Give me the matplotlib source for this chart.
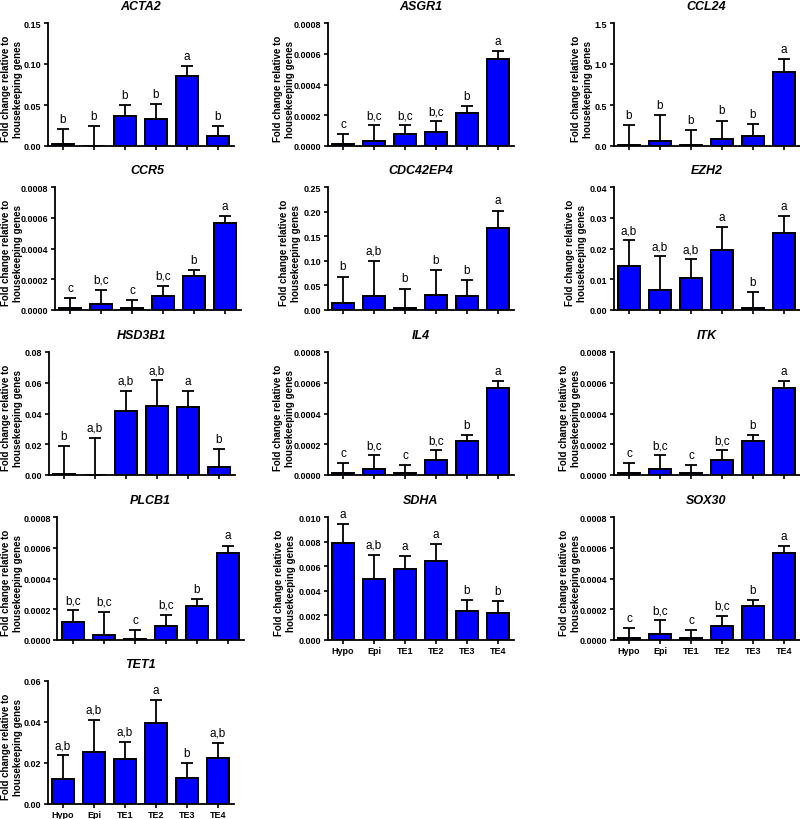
import numpy as np
import matplotlib
matplotlib.use("Agg")
import matplotlib.pyplot as plt

plt.rcParams['font.family'] = ['Liberation Sans', 'DejaVu Sans']

groups = ["Hypo", "Epi", "TE1", "TE2", "TE3", "TE4"]

# mean and SD (upper whisker) per gene
ACTA2 = [0.002, 0.0, 0.036, 0.033, 0.0855, 0.012]
ACTA2_sd = [0.019, 0.0245, 0.014, 0.018, 0.0115, 0.012]
ACTA2_grp = ["b", "b", "b", "b", "a", "b"]

ASGR1 = [0.00001, 0.000033, 0.00008, 0.00009, 0.000217, 0.000563]
ASGR1_sd = [0.00007, 0.000102, 0.000055, 0.00007, 0.000043, 0.000052]
ASGR1_grp = ["c", "b,c", "b,c", "b,c", "b", "a"]

CCL24 = [0.012, 0.06, 0.012, 0.08, 0.12, 0.905]
CCL24_sd = [0.248, 0.32, 0.178, 0.23, 0.145, 0.16]
CCL24_grp = ["b", "b", "b", "b", "b", "a"]

CCR5 = [0.00001, 0.000037, 0.00001, 0.000093, 0.000218, 0.000564]
CCR5_sd = [0.00007, 0.000093, 0.000053, 0.000065, 0.000042, 0.000046]
CCR5_grp = ["c", "b,c", "c", "b,c", "b", "a"]

CDC42EP4 = [0.015, 0.029, 0.004, 0.031, 0.029, 0.166]
CDC42EP4_sd = [0.053, 0.071, 0.0395, 0.0505, 0.032, 0.036]
CDC42EP4_grp = ["b", "a,b", "b", "b", "b", "a"]

EZH2 = [0.0143, 0.0066, 0.0105, 0.0194, 0.0005, 0.025]
EZH2_sd = [0.0084, 0.0109, 0.006, 0.0077, 0.0052, 0.0056]
EZH2_grp = ["a,b", "a,b", "a,b", "a", "b", "a"]

HSD3B1 = [0.0006, 0.0, 0.0417, 0.0452, 0.0441, 0.0054]
HSD3B1_sd = [0.0182, 0.024, 0.013, 0.0164, 0.0106, 0.0115]
HSD3B1_grp = ["b", "a,b", "a,b", "a,b", "a", "b"]

IL4 = [0.00001, 0.000037, 0.00001, 0.000095, 0.00022, 0.000564]
IL4_sd = [0.00007, 0.000091, 0.000053, 0.000065, 0.00004, 0.000046]
IL4_grp = ["c", "b,c", "c", "b,c", "b", "a"]

ITK = [0.00001, 0.000037, 0.00001, 0.000095, 0.00022, 0.000564]
ITK_sd = [0.00007, 0.000091, 0.000053, 0.000065, 0.00004, 0.000046]
ITK_grp = ["c", "b,c", "c", "b,c", "b", "a"]

PLCB1 = [0.000116, 0.000033, 0.000007, 0.000092, 0.000218, 0.000564]
PLCB1_sd = [0.000076, 0.000152, 0.000056, 0.000071, 0.000046, 0.00005]
PLCB1_grp = ["b,c", "b,c", "c", "b,c", "b", "a"]

SDHA = [0.0079, 0.00493, 0.00575, 0.00642, 0.00236, 0.0022]
SDHA_sd = [0.0015, 0.002, 0.00108, 0.00141, 0.00089, 0.00097]
SDHA_grp = ["a", "a,b", "a", "a", "b", "b"]

SOX30 = [0.00001, 0.000037, 0.00001, 0.000093, 0.000218, 0.000564]
SOX30_sd = [0.00007, 0.000091, 0.000053, 0.000065, 0.000042, 0.000046]
SOX30_grp = ["c", "b,c", "c", "b,c", "b", "a"]

TET1 = [0.0122, 0.0255, 0.022, 0.0397, 0.0128, 0.0224]
TET1_sd = [0.0115, 0.0155, 0.0082, 0.0109, 0.007, 0.0076]
TET1_grp = ["a,b", "a,b", "a,b", "a", "b", "a,b"]

# name, mean, sd, letters, y max, y step, tick format
panels = [
    ("ACTA2", ACTA2, ACTA2_sd, ACTA2_grp, 0.15, 0.05, "%.2f"),
    ("ASGR1", ASGR1, ASGR1_sd, ASGR1_grp, 0.0008, 0.0002, "%.4f"),
    ("CCL24", CCL24, CCL24_sd, CCL24_grp, 1.5, 0.5, "%.1f"),
    ("CCR5", CCR5, CCR5_sd, CCR5_grp, 0.0008, 0.0002, "%.4f"),
    ("CDC42EP4", CDC42EP4, CDC42EP4_sd, CDC42EP4_grp, 0.25, 0.05, "%.2f"),
    ("EZH2", EZH2, EZH2_sd, EZH2_grp, 0.04, 0.01, "%.2f"),
    ("HSD3B1", HSD3B1, HSD3B1_sd, HSD3B1_grp, 0.08, 0.02, "%.2f"),
    ("IL4", IL4, IL4_sd, IL4_grp, 0.0008, 0.0002, "%.4f"),
    ("ITK", ITK, ITK_sd, ITK_grp, 0.0008, 0.0002, "%.4f"),
    ("PLCB1", PLCB1, PLCB1_sd, PLCB1_grp, 0.0008, 0.0002, "%.4f"),
    ("SDHA", SDHA, SDHA_sd, SDHA_grp, 0.010, 0.002, "%.3f"),
    ("SOX30", SOX30, SOX30_sd, SOX30_grp, 0.0008, 0.0002, "%.4f"),
    ("TET1", TET1, TET1_sd, TET1_grp, 0.06, 0.02, "%.2f"),
]
with_xlabels = ["SDHA", "SOX30", "TET1"]

# layout in pixels: first bar centre, y-label centre, top of each row
W, H = 800, 820
first_bar = [63, 343, 629, 70, 343, 629, 64, 343, 629, 73, 343, 629, 63]
ylab_x = [12, 284, 582, 12, 290, 576, 12, 284, 570, 12, 285, 570, 12]
row_top = [24, 188, 353, 518, 682]
step_px, ax_h = 31, 123
ax_w = 6 * step_px

fig = plt.figure(figsize=(W / 100, H / 100), dpi=100)
x = np.arange(len(groups))
for i, (name, mean, sd, grp, ymax, step, fmt) in enumerate(panels):
    r = i // 3
    left = first_bar[i] - step_px / 2
    ax = fig.add_axes([left / W, (H - row_top[r] - ax_h) / H, ax_w / W, ax_h / H])
    mean = np.array(mean)
    sd = np.array(sd)
    ax.bar(x, mean, width=0.7, color="#0000FF", edgecolor="black", linewidth=1.4, zorder=3)
    ax.errorbar(x, mean, yerr=[np.zeros_like(sd), sd], fmt="none", ecolor="black",
                elinewidth=1.3, capsize=4.5, capthick=1.3, zorder=2)
    for xi, top, lab in zip(x, mean + sd, grp):
        ax.annotate(lab, (xi, top), xytext=(0, 3), textcoords="offset points",
                    ha="center", va="bottom", fontsize=8.5)
    ax.set_xlim(-0.5, 5.5)
    ax.set_ylim(0, ymax)
    ticks = np.arange(0, ymax + step / 2, step)
    ax.set_yticks(ticks)
    ax.set_yticklabels([fmt % t for t in ticks], fontsize=6.5, fontweight="bold")
    ax.set_xticks(x)
    if name in with_xlabels:
        ax.set_xticklabels(groups, fontsize=6.5, fontweight="bold")
    else:
        ax.set_xticklabels([])
    ax.tick_params(direction="out", length=3, width=1.2, pad=1.5)
    for s in ["top", "right"]:
        ax.spines[s].set_visible(False)
    for s in ["left", "bottom"]:
        ax.spines[s].set_linewidth(1.3)
    ax.set_title(name, fontsize=9, fontweight="bold", style="italic", pad=10)
    ax.set_ylabel("Fold change relative to\nhousekeeping genes", fontsize=7,
                  fontweight="bold", linespacing=1.15, va="center")
    ax.yaxis.set_label_coords((ylab_x[i] - left) / ax_w, 0.47)

fig.savefig("out.png", dpi=100, facecolor="white")
